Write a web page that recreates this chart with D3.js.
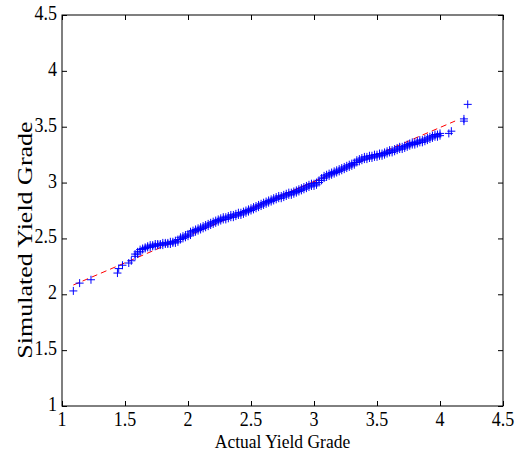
<!DOCTYPE html>
<html>
<head>
<style>
  body { margin: 0; background: #fff; }
  svg text { font-family: "Liberation Serif", "Times New Roman", serif; fill: #000; }
</style>
<script src="https://d3js.org/d3.v7.min.js"></script>
</head>
<body>
<svg id="chart" width="518" height="455"></svg>
<script>
// sorted quantiles (stacked marks at repeated actual values)
var actualQ = [1.09, 1.14, 1.23, 1.44, 1.45, 1.48, 1.53, 1.55,
  1.58,1.58,1.60,1.60,1.62,1.62,1.64,1.64,1.66,1.66,1.68,1.68,1.70,1.70,1.72,1.72,1.74,1.74,1.76,1.76,
  1.78,1.78,1.80,1.80,1.82,1.82,1.84,1.84,1.86,1.86,1.88,1.88,1.90,1.90,1.92,1.92,1.94,1.94,1.96,1.96,
  1.98,1.98,2.00,2.00,2.02,2.02,2.04,2.04,2.06,2.06,2.08,2.08,2.10,2.10,2.12,2.12,2.14,2.14,2.16,2.16,
  2.18,2.18,2.20,2.20,2.22,2.22,2.24,2.24,2.26,2.26,2.28,2.28,2.30,2.30,2.32,2.32,2.34,2.34,2.36,2.36,
  2.38,2.38,2.40,2.40,2.42,2.42,2.44,2.44,2.46,2.46,2.48,2.48,2.50,2.50,2.52,2.52,2.54,2.54,2.56,2.56,
  2.58,2.58,2.60,2.60,2.62,2.62,2.64,2.64,2.66,2.66,2.68,2.68,2.70,2.70,2.72,2.72,2.74,2.74,2.76,2.76,
  2.78,2.78,2.80,2.80,2.82,2.82,2.84,2.84,2.86,2.86,2.88,2.88,2.90,2.90,2.92,2.92,2.94,2.94,2.96,2.96,
  2.98,2.98,3.00,3.00,3.02,3.02,3.04,3.04,3.06,3.06,3.08,3.08,3.10,3.10,3.12,3.12,3.14,3.14,3.16,3.16,
  3.18,3.18,3.20,3.20,3.22,3.22,3.24,3.24,3.26,3.26,3.28,3.28,3.30,3.30,3.32,3.32,3.34,3.34,3.36,3.36,
  3.38,3.38,3.40,3.40,3.42,3.42,3.44,3.44,3.46,3.46,3.48,3.48,3.50,3.50,3.52,3.52,3.54,3.54,3.56,3.56,
  3.58,3.58,3.60,3.60,3.62,3.62,3.64,3.64,3.66,3.66,3.68,3.68,3.70,3.70,3.72,3.72,3.74,3.74,3.76,3.76,
  3.78,3.78,3.80,3.80,3.82,3.82,3.84,3.84,3.86,3.86,3.88,3.88,3.90,3.90,3.92,3.92,3.94,3.94,3.96,3.96,
  3.98,3.98,4.00,4.00,
  4.07, 4.09, 4.19, 4.19, 4.22];
var simQ = [2.03, 2.10, 2.13, 2.19, 2.23, 2.26, 2.28, 2.30,
  2.34,2.36,2.36,2.38,2.38,2.40,2.40,2.41,2.41,2.42,2.42,2.43,2.42,2.44,2.43,2.44,2.43,2.45,2.44,2.45,
  2.44,2.45,2.44,2.46,2.45,2.46,2.45,2.46,2.45,2.47,2.46,2.47,2.46,2.48,2.47,2.49,2.49,2.51,2.50,2.52,
  2.51,2.53,2.52,2.54,2.53,2.56,2.55,2.57,2.56,2.58,2.57,2.59,2.58,2.60,2.59,2.61,2.60,2.62,2.61,2.63,
  2.62,2.64,2.63,2.65,2.64,2.66,2.65,2.67,2.66,2.68,2.67,2.69,2.67,2.69,2.68,2.70,2.69,2.71,2.69,2.71,
  2.70,2.72,2.71,2.73,2.71,2.73,2.72,2.74,2.73,2.75,2.74,2.76,2.75,2.77,2.76,2.78,2.77,2.79,2.78,2.80,
  2.79,2.81,2.80,2.82,2.81,2.83,2.82,2.84,2.83,2.85,2.84,2.86,2.85,2.87,2.86,2.88,2.86,2.88,2.87,2.89,
  2.88,2.90,2.89,2.91,2.89,2.91,2.90,2.92,2.91,2.93,2.92,2.94,2.93,2.95,2.94,2.96,2.95,2.97,2.96,2.98,
  2.97,2.99,2.97,2.99,2.98,3.00,3.00,3.02,3.02,3.04,3.04,3.06,3.05,3.07,3.06,3.08,3.07,3.09,3.08,3.10,
  3.09,3.11,3.10,3.12,3.11,3.13,3.12,3.14,3.13,3.15,3.14,3.16,3.15,3.17,3.16,3.18,3.18,3.20,3.19,3.21,
  3.20,3.22,3.21,3.23,3.21,3.23,3.22,3.24,3.22,3.24,3.23,3.25,3.23,3.25,3.24,3.26,3.24,3.26,3.25,3.27,
  3.26,3.28,3.27,3.29,3.27,3.29,3.28,3.30,3.29,3.31,3.30,3.32,3.30,3.32,3.31,3.33,3.32,3.34,3.33,3.35,
  3.34,3.36,3.34,3.36,3.35,3.37,3.36,3.38,3.36,3.38,3.37,3.39,3.38,3.40,3.39,3.41,3.40,3.42,3.41,3.43,
  3.41,3.43,3.42,3.44,
  3.44, 3.46, 3.55, 3.57, 3.70];
// reference line: ends and quartile section
var lineX = [1.09, 4.12];
var lineY = [2.083, 3.551];
var quartX = [2.40, 3.05];
var quartY = [2.719, 3.034];
var xTicks = [1, 1.5, 2, 2.5, 3, 3.5, 4, 4.5];
var yTicks = [1, 1.5, 2, 2.5, 3, 3.5, 4, 4.5];

function draw() {
  var svg = d3.select("#chart");
  var left = 62, right = 503, top = 15, bottom = 406;

  var x = d3.scaleLinear().domain([1, 4.5]).range([left, right]);
  var y = d3.scaleLinear().domain([1, 4.5]).range([bottom, top]);

  // box
  svg.append("rect")
    .attr("x", left).attr("y", top)
    .attr("width", right - left).attr("height", bottom - top)
    .attr("fill", "none").attr("stroke", "#000").attr("stroke-width", 1);

  // ticks on all four sides, pointing inward
  svg.append("g").attr("transform", "translate(0," + bottom + ")")
    .call(d3.axisBottom(x).tickValues(xTicks).tickSizeInner(-5).tickSizeOuter(0).tickFormat(""))
    .call(g => g.select(".domain").remove());
  svg.append("g").attr("transform", "translate(0," + top + ")")
    .call(d3.axisTop(x).tickValues(xTicks).tickSizeInner(-5).tickSizeOuter(0).tickFormat(""))
    .call(g => g.select(".domain").remove());
  svg.append("g").attr("transform", "translate(" + left + ",0)")
    .call(d3.axisLeft(y).tickValues(yTicks).tickSizeInner(-5).tickSizeOuter(0).tickFormat(""))
    .call(g => g.select(".domain").remove());
  svg.append("g").attr("transform", "translate(" + right + ",0)")
    .call(d3.axisRight(y).tickValues(yTicks).tickSizeInner(-5).tickSizeOuter(0).tickFormat(""))
    .call(g => g.select(".domain").remove());

  // tick labels (text in the reference is stretched vertically)
  var sy = 1.2;
  xTicks.forEach(function (t) {
    svg.append("text")
      .attr("transform", "translate(" + x(t) + ",426) scale(1," + sy + ")")
      .attr("text-anchor", "middle")
      .attr("font-size", "18px")
      .text(d3.format("")(t));
  });
  yTicks.forEach(function (t) {
    svg.append("text")
      .attr("transform", "translate(57," + (y(t) + 5) + ") scale(1," + sy + ")")
      .attr("text-anchor", "end")
      .attr("font-size", "18px")
      .text(d3.format("")(t));
  });

  svg.append("text")
    .attr("transform", "translate(" + ((left + right) / 2) + ",448) scale(1,1.12)")
    .attr("text-anchor", "middle")
    .attr("font-size", "17.5px")
    .text("Actual Yield Grade");

  svg.append("text")
    .attr("transform", "translate(32,240) rotate(-90) scale(1.3,1)")
    .attr("text-anchor", "middle")
    .attr("font-size", "20px")
    .text("Simulated Yield Grade");

  // reference line
  svg.append("line")
    .attr("x1", x(lineX[0])).attr("y1", y(lineY[0]))
    .attr("x2", x(lineX[1])).attr("y2", y(lineY[1]))
    .attr("stroke", "#ff0000").attr("stroke-width", 1)
    .attr("stroke-dasharray", "6,4");
  svg.append("line")
    .attr("x1", x(quartX[0])).attr("y1", y(quartY[0]))
    .attr("x2", x(quartX[1])).attr("y2", y(quartY[1]))
    .attr("stroke", "#ff0000").attr("stroke-width", 1);

  // '+' markers
  var pts = actualQ.map(function (a, i) { return [a, simQ[i]]; });
  var s = 4;
  svg.append("g").selectAll("path")
    .data(pts)
    .enter().append("path")
    .attr("d", function (d) {
      var cx = x(d[0]), cy = y(d[1]);
      return "M" + (cx - s) + "," + cy + "H" + (cx + s) + "M" + cx + "," + (cy - s) + "V" + (cy + s);
    })
    .attr("stroke", "#0000ff")
    .attr("stroke-width", 1)
    .attr("fill", "none");
}
draw();
</script>
</body>
</html>
